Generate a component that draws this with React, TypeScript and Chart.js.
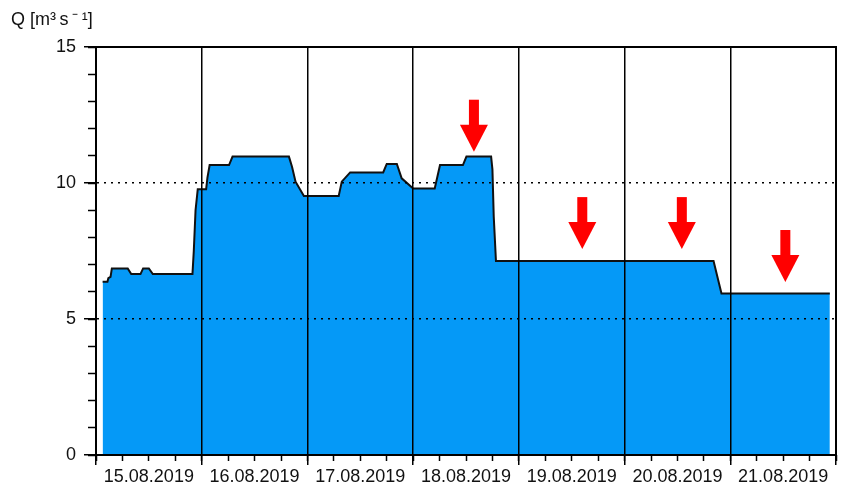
import React, { useEffect, useRef } from 'react';
import { Chart, registerables } from 'chart.js';

Chart.register(...registerables);

// hours since 15.08.2019 00:00
const hours = [1.5, 2.6, 2.8, 3.3, 3.6, 7.2, 8.0, 10.1, 10.7, 12.0, 12.9, 21.9, 22.2, 22.6, 23.1, 25.0, 25.3, 25.8, 30.2, 31.0, 43.8, 44.5, 45.3, 47.2, 55.1, 55.8, 57.7, 65.2, 66.0, 68.3, 69.4, 72.0, 76.9, 78.1, 83.3, 84.1, 89.7, 90.0, 90.3, 90.8, 140.2, 142.0, 166.6];
const discharge = [6.37, 6.37, 6.5, 6.55, 6.86, 6.86, 6.65, 6.65, 6.86, 6.86, 6.65, 6.65, 7.5, 9.0, 9.77, 9.77, 10.2, 10.66, 10.66, 10.97, 10.97, 10.6, 10.05, 9.52, 9.52, 10.05, 10.39, 10.39, 10.7, 10.7, 10.17, 9.8, 9.8, 10.66, 10.66, 10.97, 10.97, 10.5, 8.76, 7.13, 7.13, 5.94, 5.94];
const dayLabels = ['15.08.2019', '16.08.2019', '17.08.2019', '18.08.2019', '19.08.2019', '20.08.2019', '21.08.2019'];
const yTickValues = [0, 5, 10, 15];
const arrowHours = [85.8, 110.4, 133.0, 156.5];
const arrowTips = [11.15, 7.57, 7.57, 6.36];

const FONT = 'Liberation Sans, Arial, sans-serif';

const arrowPlugin = {
  id: 'arrows',
  afterDatasetsDraw(chart: any) {
    const { ctx, scales } = chart;
    const xs = scales.x;
    const ys = scales.y;
    ctx.save();
    ctx.fillStyle = '#ff0000';
    arrowHours.forEach((h, i) => {
      const x = xs.getPixelForValue(h);
      const tip = ys.getPixelForValue(arrowTips[i]);
      ctx.fillRect(x - 5, tip - 52, 10, 26);
      ctx.beginPath();
      ctx.moveTo(x - 14, tip - 27);
      ctx.lineTo(x + 14, tip - 27);
      ctx.lineTo(x, tip);
      ctx.closePath();
      ctx.fill();
    });
    ctx.restore();
  },
};

export default function App() {
  const ref = useRef<HTMLCanvasElement | null>(null);

  useEffect(() => {
    if (!ref.current) return;
    const points = hours.map((h, i) => ({ x: h, y: discharge[i] }));
    const chart = new Chart(ref.current, {
      type: 'line',
      data: {
        datasets: [
          {
            data: points,
            xAxisID: 'x',
            yAxisID: 'y',
            fill: 'origin',
            backgroundColor: '#0599F7',
            borderColor: '#111',
            borderWidth: 2,
            pointRadius: 0,
            tension: 0,
          },
        ],
      },
      options: {
        animation: false,
        responsive: false,
        devicePixelRatio: 1,
        layout: { padding: { left: 11, right: 1, top: 0, bottom: 0 } },
        plugins: {
          legend: { display: false },
          tooltip: { enabled: false },
          title: {
            display: true,
            text: 'Q [m³\u2009s\u2009⁻\u2009¹]',
            align: 'start',
            color: '#111',
            font: { family: FONT, size: 18, weight: 'normal', lineHeight: 1 },
            padding: { top: 11, bottom: 18 },
          },
        },
        scales: {
          x: {
            type: 'linear',
            position: 'bottom',
            min: 0,
            max: 168,
            weight: 0,
            afterFit: (s: any) => { s.height = 0; },
            ticks: { stepSize: 24, display: false },
            grid: { color: '#000', lineWidth: 1.5, tickLength: 10, tickColor: '#000', tickWidth: 1.5, z: 1 },
            border: { display: true, color: '#000', width: 2, z: 1 },
          },
          xMinor: {
            type: 'linear',
            position: 'bottom',
            min: 0,
            max: 168,
            weight: 1,
            afterFit: (s: any) => { s.height = 30; },
            ticks: {
              stepSize: 6,
              autoSkip: false,
              maxRotation: 0,
              padding: 5,
              color: '#111',
              font: { family: FONT, size: 18 },
              callback: (v: any) => (v % 24 === 12 ? dayLabels[(v - 12) / 24] : ''),
            },
            grid: { drawOnChartArea: false, tickLength: 6, tickColor: '#000', tickWidth: 1.5 },
            border: { display: false },
          },
          xTop: {
            type: 'linear',
            position: 'top',
            min: 0,
            max: 168,
            afterFit: (s: any) => { s.height = 0; },
            ticks: { display: false },
            grid: { display: false },
            border: { display: true, color: '#000', width: 2, z: 1 },
          },
          y: {
            type: 'linear',
            position: 'left',
            min: 0,
            max: 15,
            weight: 1,
            afterFit: (s: any) => { s.width = 85; },
            afterBuildTicks: (s: any) => { s.ticks = yTickValues.map((v) => ({ value: v })); },
            ticks: { padding: 8, color: '#111', font: { family: FONT, size: 18 } },
            grid: {
              color: (c: any) => (c.tick && (c.tick.value === 5 || c.tick.value === 10) ? '#000' : 'rgba(0,0,0,0)'),
              lineWidth: 1.5,
              tickLength: 12,
              tickColor: '#000',
              tickWidth: 1.5,
              z: 1,
            },
            border: { display: true, color: '#000', width: 2, dash: [2, 5], z: 1 },
          },
          yMinor: {
            type: 'linear',
            position: 'left',
            min: 0,
            max: 15,
            weight: 0,
            afterFit: (s: any) => { s.width = 0; },
            ticks: { stepSize: 1, display: false },
            grid: { drawOnChartArea: false, tickLength: 8, tickColor: '#000', tickWidth: 1.5 },
            border: { display: false },
          },
          yRight: {
            type: 'linear',
            position: 'right',
            min: 0,
            max: 15,
            afterFit: (s: any) => { s.width = 0; },
            ticks: { display: false },
            grid: { display: false },
            border: { display: true, color: '#000', width: 2, z: 1 },
          },
        },
      },
      plugins: [arrowPlugin],
    } as any);
    return () => chart.destroy();
  }, []);

  return (
    <div style={{ position: 'fixed', left: 0, top: 0, width: 841, height: 485, background: '#fff' }}>
      <canvas ref={ref} width={841} height={485} style={{ display: 'block' }} />
    </div>
  );
}
